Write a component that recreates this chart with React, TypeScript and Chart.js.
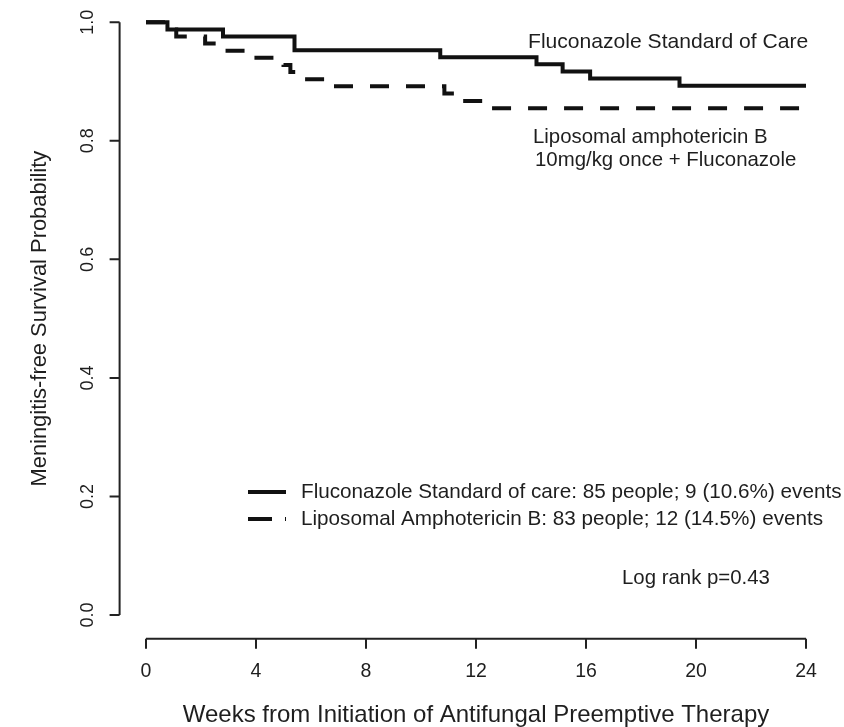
import React, { useEffect, useRef } from "react";
import { Chart, registerables } from "chart.js";

Chart.register(...registerables);

// ---- data ----
const flcWeeks = [0, 0.78, 2.8, 5.4, 10.7, 14.2, 15.15, 16.15, 19.4, 24];
const flcSurv = [1, 0.988, 0.976, 0.953, 0.941, 0.929, 0.917, 0.905, 0.893, 0.893];

const lambWeeks = [0, 0.78, 1.1, 2.15, 2.8, 3.9, 5.0, 5.25, 5.55, 6.6, 10.85, 11.25, 12.4, 24];
const lambSurv = [1, 0.988, 0.976, 0.964, 0.952, 0.94, 0.928, 0.916, 0.904, 0.892, 0.88, 0.867, 0.855, 0.855];

const xTicks = [0, 4, 8, 12, 16, 20, 24];
const xTickLabels = ["0", "4", "8", "12", "16", "20", "24"];
const yTicks = [0, 0.2, 0.4, 0.6, 0.8, 1.0];
const yTickLabels = ["0.0", "0.2", "0.4", "0.6", "0.8", "1.0"];

const xTitle = "Weeks from Initiation of Antifungal Preemptive Therapy";
const yTitle = "Meningitis-free Survival Probability";
const legendLabels = [
  "Fluconazole Standard of care: 85 people; 9 (10.6%) events",
  "Liposomal Amphotericin B: 83 people; 12 (14.5%) events",
];
const flcCurveLabel = ["Fluconazole Standard of Care"];
const lambCurveLabel = ["Liposomal amphotericin B", "10mg/kg once + Fluconazole"];
const pValueLabel = "Log rank p=0.43";

const FONT = '"Liberation Sans", Arial, Helvetica, sans-serif';
const INK = "#111111";
const TEXT = "#1e1e1e";

function drawText(
  ctx: CanvasRenderingContext2D,
  s: string,
  x: number,
  y: number,
  size: number,
  align: CanvasTextAlign,
  rot = 0
) {
  ctx.save();
  ctx.translate(x, y);
  if (rot) ctx.rotate(rot);
  ctx.font = `${size}px ${FONT}`;
  ctx.fillStyle = TEXT;
  ctx.textAlign = align;
  ctx.textBaseline = "middle";
  ctx.fillText(s, 0, 0);
  ctx.restore();
}

const rAxesPlugin = {
  id: "rAxes",
  afterDraw(chart: any) {
    const ctx: CanvasRenderingContext2D = chart.ctx;
    const xs = chart.scales.x;
    const ys = chart.scales.y;
    const area = chart.chartArea;
    ctx.save();
    ctx.strokeStyle = "#222";
    ctx.lineWidth = 2;
    ctx.lineCap = "butt";

    // y axis (R style)
    const ax = area.left;
    ctx.beginPath();
    ctx.moveTo(ax, ys.getPixelForValue(yTicks[0]));
    ctx.lineTo(ax, ys.getPixelForValue(yTicks[yTicks.length - 1]));
    yTicks.forEach((v) => {
      const py = ys.getPixelForValue(v);
      ctx.moveTo(ax, py);
      ctx.lineTo(ax - 10, py);
    });
    ctx.stroke();
    yTicks.forEach((v, i) => {
      drawText(ctx, yTickLabels[i], ax - 32, ys.getPixelForValue(v), 18, "center", -Math.PI / 2);
    });

    // x axis (R style)
    const ay = area.bottom;
    ctx.beginPath();
    ctx.moveTo(xs.getPixelForValue(xTicks[0]), ay);
    ctx.lineTo(xs.getPixelForValue(xTicks[xTicks.length - 1]), ay);
    xTicks.forEach((v) => {
      const px = xs.getPixelForValue(v);
      ctx.moveTo(px, ay);
      ctx.lineTo(px, ay + 10);
    });
    ctx.stroke();
    xTicks.forEach((v, i) => {
      drawText(ctx, xTickLabels[i], xs.getPixelForValue(v), ay + 33, 19.5, "center");
    });

    // axis titles
    drawText(ctx, xTitle, xs.getPixelForValue(12), ay + 77, 24, "center");
    drawText(ctx, yTitle, 40, ys.getPixelForValue(0.5), 21.9, "center", -Math.PI / 2);

    // legend inside the plot
    const lx0 = 248;
    const lx1 = 286;
    const rows = [492, 519];
    ctx.strokeStyle = INK;
    ctx.lineWidth = 4;
    rows.forEach((ry, i) => {
      ctx.beginPath();
      ctx.setLineDash(i === 0 ? [] : [24, 13]);
      ctx.moveTo(lx0, ry);
      ctx.lineTo(lx1, ry);
      ctx.stroke();
      ctx.setLineDash([]);
      drawText(ctx, legendLabels[i], 301, ry, 20.7, "left");
    });

    // curve annotations
    drawText(ctx, flcCurveLabel[0], 528, 42, 21.1, "left");
    drawText(ctx, lambCurveLabel[0], 533, 137, 20.4, "left");
    drawText(ctx, lambCurveLabel[1], 535, 160, 20.4, "left");
    drawText(ctx, pValueLabel, 622, 578, 20.4, "left");
    ctx.restore();
  },
};

export default function App() {
  const ref = useRef<HTMLCanvasElement | null>(null);
  useEffect(() => {
    if (!ref.current) return;
    const chart = new Chart(ref.current, {
      type: "line",
      data: {
        datasets: [
          {
            label: legendLabels[0],
            data: flcWeeks.map((w, i) => ({ x: w, y: flcSurv[i] })),
            borderColor: INK,
            borderWidth: 4,
            stepped: "before",
            pointRadius: 0,
            fill: false,
          },
          {
            label: legendLabels[1],
            data: lambWeeks.map((w, i) => ({ x: w, y: lambSurv[i] })),
            borderColor: INK,
            borderWidth: 4,
            borderDash: [19, 17],
            stepped: "before",
            pointRadius: 0,
            fill: false,
          },
        ],
      },
      options: {
        responsive: false,
        animation: false,
        devicePixelRatio: 1,
        layout: { padding: { left: 119.6, right: 11.6, top: 0, bottom: 88.3 } },
        plugins: { legend: { display: false }, tooltip: { enabled: false } },
        scales: {
          x: { type: "linear", min: -0.96, max: 24.96, display: false },
          y: { type: "linear", min: -0.04, max: 1.0376, display: false },
        },
      },
      plugins: [rAxesPlugin],
    });
    return () => chart.destroy();
  }, []);
  return (
    <div style={{ position: "absolute", left: 0, top: 0, width: 844, height: 727, background: "#fff" }}>
      <canvas ref={ref} width={844} height={727} style={{ display: "block" }} />
    </div>
  );
}
